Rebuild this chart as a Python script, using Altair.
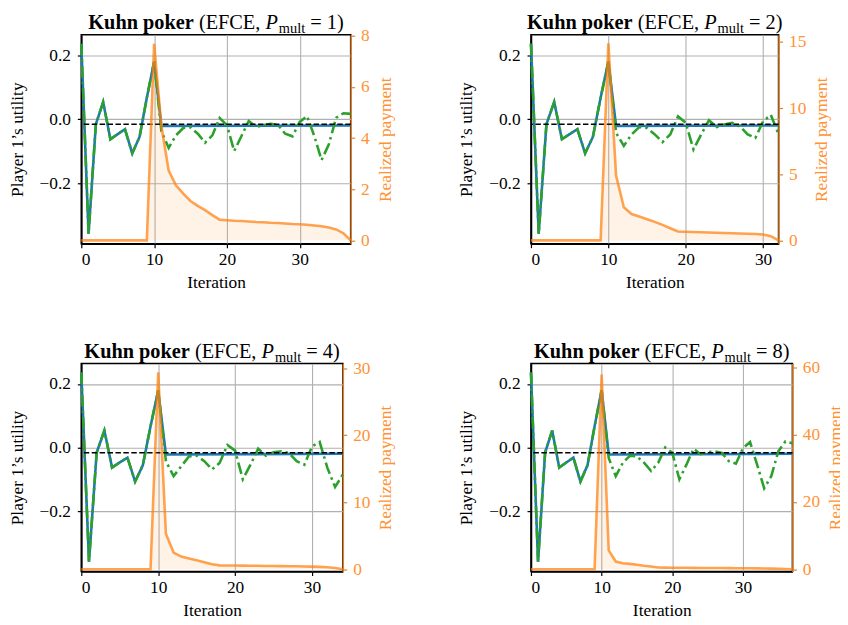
import altair as alt
import pandas as pd

FONT = "Liberation Serif"

# ---------------- data ----------------
ITER_HEAD = [0, 1, 2, 3, 4, 5, 6, 7, 8, 9, 10]
UTIL_HEAD = [0.236, -0.357, -0.015, 0.054, -0.062, -0.046, -0.031, -0.106, -0.055, 0.067, 0.180]
BLUE_AFTER = [-0.021, -0.019]          # at iteration 11 and at the last iteration
DASHED_LEVEL = -0.0155

P_MULTS = [1, 2, 4, 8]
LAST_ITER = {1: 37, 2: 32, 4: 34, 8: 37}

GREEN_TAIL = {  # iterations 11 .. last
    1: [-0.037, -0.089, -0.050, -0.027, -0.025, -0.045, -0.073, -0.050, 0.004, -0.018,
        -0.099, -0.052, -0.005, -0.024, -0.018, -0.014, -0.017, -0.045, -0.053, -0.008,
        0.010, -0.052, -0.127, -0.078, 0.005, 0.019, 0.017],
    2: [-0.042, -0.083, -0.047, -0.024, -0.027, -0.047, -0.071, -0.047, 0.009, -0.011,
        -0.094, -0.047, -0.003, -0.024, -0.016, -0.011, -0.022, -0.047, -0.058, -0.006,
        0.014, -0.047],
    4: [-0.042, -0.089, -0.058, -0.027, -0.025, -0.042, -0.068, -0.047, 0.009, -0.009,
        -0.099, -0.053, -0.003, -0.025, -0.014, -0.011, -0.016, -0.042, -0.053, 0.004,
        0.018, -0.063, -0.123, -0.084],
    8: [-0.032, -0.089, -0.047, -0.025, -0.027, -0.047, -0.073, -0.047, 0.001, -0.016,
        -0.099, -0.053, -0.003, -0.020, -0.014, -0.011, -0.016, -0.042, -0.050, -0.001,
        0.018, -0.053, -0.127, -0.089, -0.011, 0.020, 0.014],
}

PAYMENT = {  # iterations 0 .. last
    1: [0, 0, 0, 0, 0, 0, 0, 0, 0, 0,
        7.68, 4.47, 2.73, 2.15, 1.83, 1.54, 1.35, 1.18, 0.99, 0.81,
        0.79, 0.77, 0.76, 0.74, 0.72, 0.71, 0.69, 0.68, 0.66, 0.64,
        0.63, 0.61, 0.58, 0.55, 0.50, 0.43, 0.28, 0.0],
    2: [0, 0, 0, 0, 0, 0, 0, 0, 0, 0,
        14.9, 4.9, 2.5, 1.99, 1.8, 1.6, 1.4, 1.17, 0.92, 0.67,
        0.65, 0.63, 0.61, 0.60, 0.58, 0.56, 0.54, 0.52, 0.50, 0.48,
        0.44, 0.32, 0.0],
    4: [0, 0, 0, 0, 0, 0, 0, 0, 0, 0,
        29.4, 5.3, 2.5, 1.9, 1.62, 1.33, 1.03, 0.74, 0.58, 0.56,
        0.55, 0.54, 0.53, 0.52, 0.50, 0.49, 0.47, 0.46, 0.44, 0.42,
        0.40, 0.36, 0.30, 0.18, 0.0],
    8: [0, 0, 0, 0, 0, 0, 0, 0, 0, 0,
        57.9, 5.6, 2.3, 1.8, 1.6, 1.35, 1.05, 0.8, 0.5, 0.48,
        0.46, 0.44, 0.43, 0.42, 0.40, 0.39, 0.37, 0.36, 0.34, 0.32,
        0.30, 0.28, 0.26, 0.24, 0.20, 0.15, 0.08, 0.0],
}

PAY_DOMAIN = {1: [-0.13, 8.04], 2: [-0.25, 15.55], 4: [-0.34, 30.7], 8: [-0.68, 61.2]}
PAY_TICKS = {1: [0, 2, 4, 6, 8], 2: [0, 5, 10, 15], 4: [0, 10, 20, 30], 8: [0, 20, 40, 60]}
UTIL_DOMAIN = [-0.388, 0.264]
UTIL_TICKS = [-0.2, 0.0, 0.2]
ITER_TICKS = [0, 10, 20, 30]
SIZES = {1: (272, 211), 2: (250, 211), 4: (264, 210), 8: (264, 210)}

BLUE = "#1f77b4"
GREEN = "#2ca02c"
ORANGE = "#ff7f0e"
ORANGE_TEXT = "#ff9233"
ORANGE_SPINE = "#dc8230"
GRID = "#b0b0b0"
LABEL_SIZE = 17.5

# approximate Times/Liberation Serif advance widths (per 1000 em)
W_REG = {' ': 250, '(': 333, ')': 333, 'E': 611, 'F': 556, 'C': 667, ',': 250, '=': 564,
         '1': 500, '2': 500, '4': 500, '8': 500, 'm': 778, 'u': 500, 'l': 278, 't': 278}
W_BOLD = {'K': 778, 'u': 556, 'h': 556, 'n': 556, ' ': 250, 'p': 556, 'o': 500,
          'k': 556, 'e': 444, 'r': 444}
W_ITAL = {'P': 611}


def text_width(s, table, size):
    return sum(table.get(c, 500) for c in s) * size / 1000.0


def title_layers(pm, width):
    big, small = 20.5, 14.5
    space = W_REG[' '] * big / 1000.0
    pieces = [
        ("Kuhn poker", big, "bold", "normal", W_BOLD, 0, space),
        ("(EFCE,", big, "normal", "normal", W_REG, 0, space),
        ("P", big, "normal", "italic", W_ITAL, 0, 1.0),
        ("mult", small, "normal", "normal", W_REG, 4, space),
        ("= %d)" % pm, big, "normal", "normal", W_REG, 0, 0),
    ]
    total = sum(text_width(p[0], p[4], p[1]) + p[6] for p in pieces)
    x = width / 2.0 - total / 2.0
    layers = []
    for text, size, weight, style, table, dy, gap in pieces:
        df = pd.DataFrame({"piece": [text]})
        layers.append(
            alt.Chart(df).mark_text(align="left", baseline="alphabetic", font=FONT,
                                    fontSize=size, fontWeight=weight, fontStyle=style,
                                    color="black")
            .encode(x=alt.value(x), y=alt.value(-6 + dy), text="piece:N")
        )
        x += text_width(text, table, size) + gap
    return layers


def panel(pm):
    last = LAST_ITER[pm]
    w, h = SIZES[pm]
    xscale = alt.Scale(domain=[0, last], nice=False)
    xaxis = alt.Axis(values=ITER_TICKS, format="d", title="Iteration", grid=True,
                     gridColor=GRID, titlePadding=6, labelPadding=3)
    X = alt.X("iteration:Q", scale=xscale, axis=xaxis)

    yscale = alt.Scale(domain=UTIL_DOMAIN, nice=False)
    yaxis = alt.Axis(values=UTIL_TICKS, format=".1f", title="Player 1\u2019s utility",
                     grid=True, gridColor=GRID, titlePadding=13, labelPadding=7)

    blue_df = pd.DataFrame({"iteration": ITER_HEAD + [11, last],
                            "utility": UTIL_HEAD + BLUE_AFTER})
    green_df = pd.DataFrame({"iteration": ITER_HEAD + list(range(11, last + 1)),
                             "utility": UTIL_HEAD + GREEN_TAIL[pm]})
    rule_df = pd.DataFrame({"level": [DASHED_LEVEL]})
    pay_df = pd.DataFrame({"iteration": list(range(last + 1)), "payment": PAYMENT[pm]})

    blue = alt.Chart(blue_df).mark_line(color=BLUE, strokeWidth=2.6).encode(
        x=X, y=alt.Y("utility:Q", scale=yscale, axis=yaxis))
    green = alt.Chart(green_df).mark_line(color=GREEN, strokeWidth=2.6,
                                          strokeDash=[12, 4, 2.5, 4]).encode(
        x=X, y=alt.Y("utility:Q", scale=yscale, axis=yaxis))
    rule = alt.Chart(rule_df).mark_rule(color="black", strokeWidth=1.6,
                                        strokeDash=[5.5, 2.5]).encode(
        y=alt.Y("level:Q", scale=yscale, axis=yaxis))

    left = alt.layer(blue, green, rule, *title_layers(pm, w))

    pscale = alt.Scale(domain=PAY_DOMAIN[pm], nice=False)
    paxis = alt.Axis(orient="right", values=PAY_TICKS[pm], format="d",
                     title="Realized payment", grid=False,
                     labelColor=ORANGE_TEXT, titleColor=ORANGE_TEXT,
                     tickColor=ORANGE_SPINE, domainColor=ORANGE_SPINE,
                     titleAngle=270, titleBaseline="top", titlePadding=7, labelPadding=6)
    area = alt.Chart(pay_df).mark_area(color=ORANGE, opacity=0.1).encode(
        x=X, y=alt.Y("payment:Q", scale=pscale, axis=paxis))
    pline = alt.Chart(pay_df).mark_line(color=ORANGE, strokeWidth=2.6, opacity=0.72).encode(
        x=X, y=alt.Y("payment:Q", scale=pscale, axis=paxis))
    right = alt.layer(area, pline)

    return alt.layer(left, right).resolve_scale(y="independent").properties(width=w, height=h)


panels = [panel(pm) for pm in P_MULTS]

chart = alt.concat(*panels, columns=2, spacing={"row": 121, "column": 182},
                   bounds="flush").properties(
    autosize=alt.AutoSizeParams(type="none"),
    padding={"left": 74, "top": 24, "right": 766, "bottom": 593},
    background="white",
).configure_view(
    stroke="black", strokeWidth=1.6
).configure_axis(
    labelFont=FONT, titleFont=FONT, labelFontSize=LABEL_SIZE, titleFontSize=LABEL_SIZE,
    titleFontWeight="normal", labelColor="black", titleColor="black",
    tickColor="black", domainColor="black", tickSize=4, tickWidth=1.2,
    domainWidth=1.6, gridWidth=1.1
)

chart.save("out.html", embed_options={"renderer": "svg", "actions": False})
